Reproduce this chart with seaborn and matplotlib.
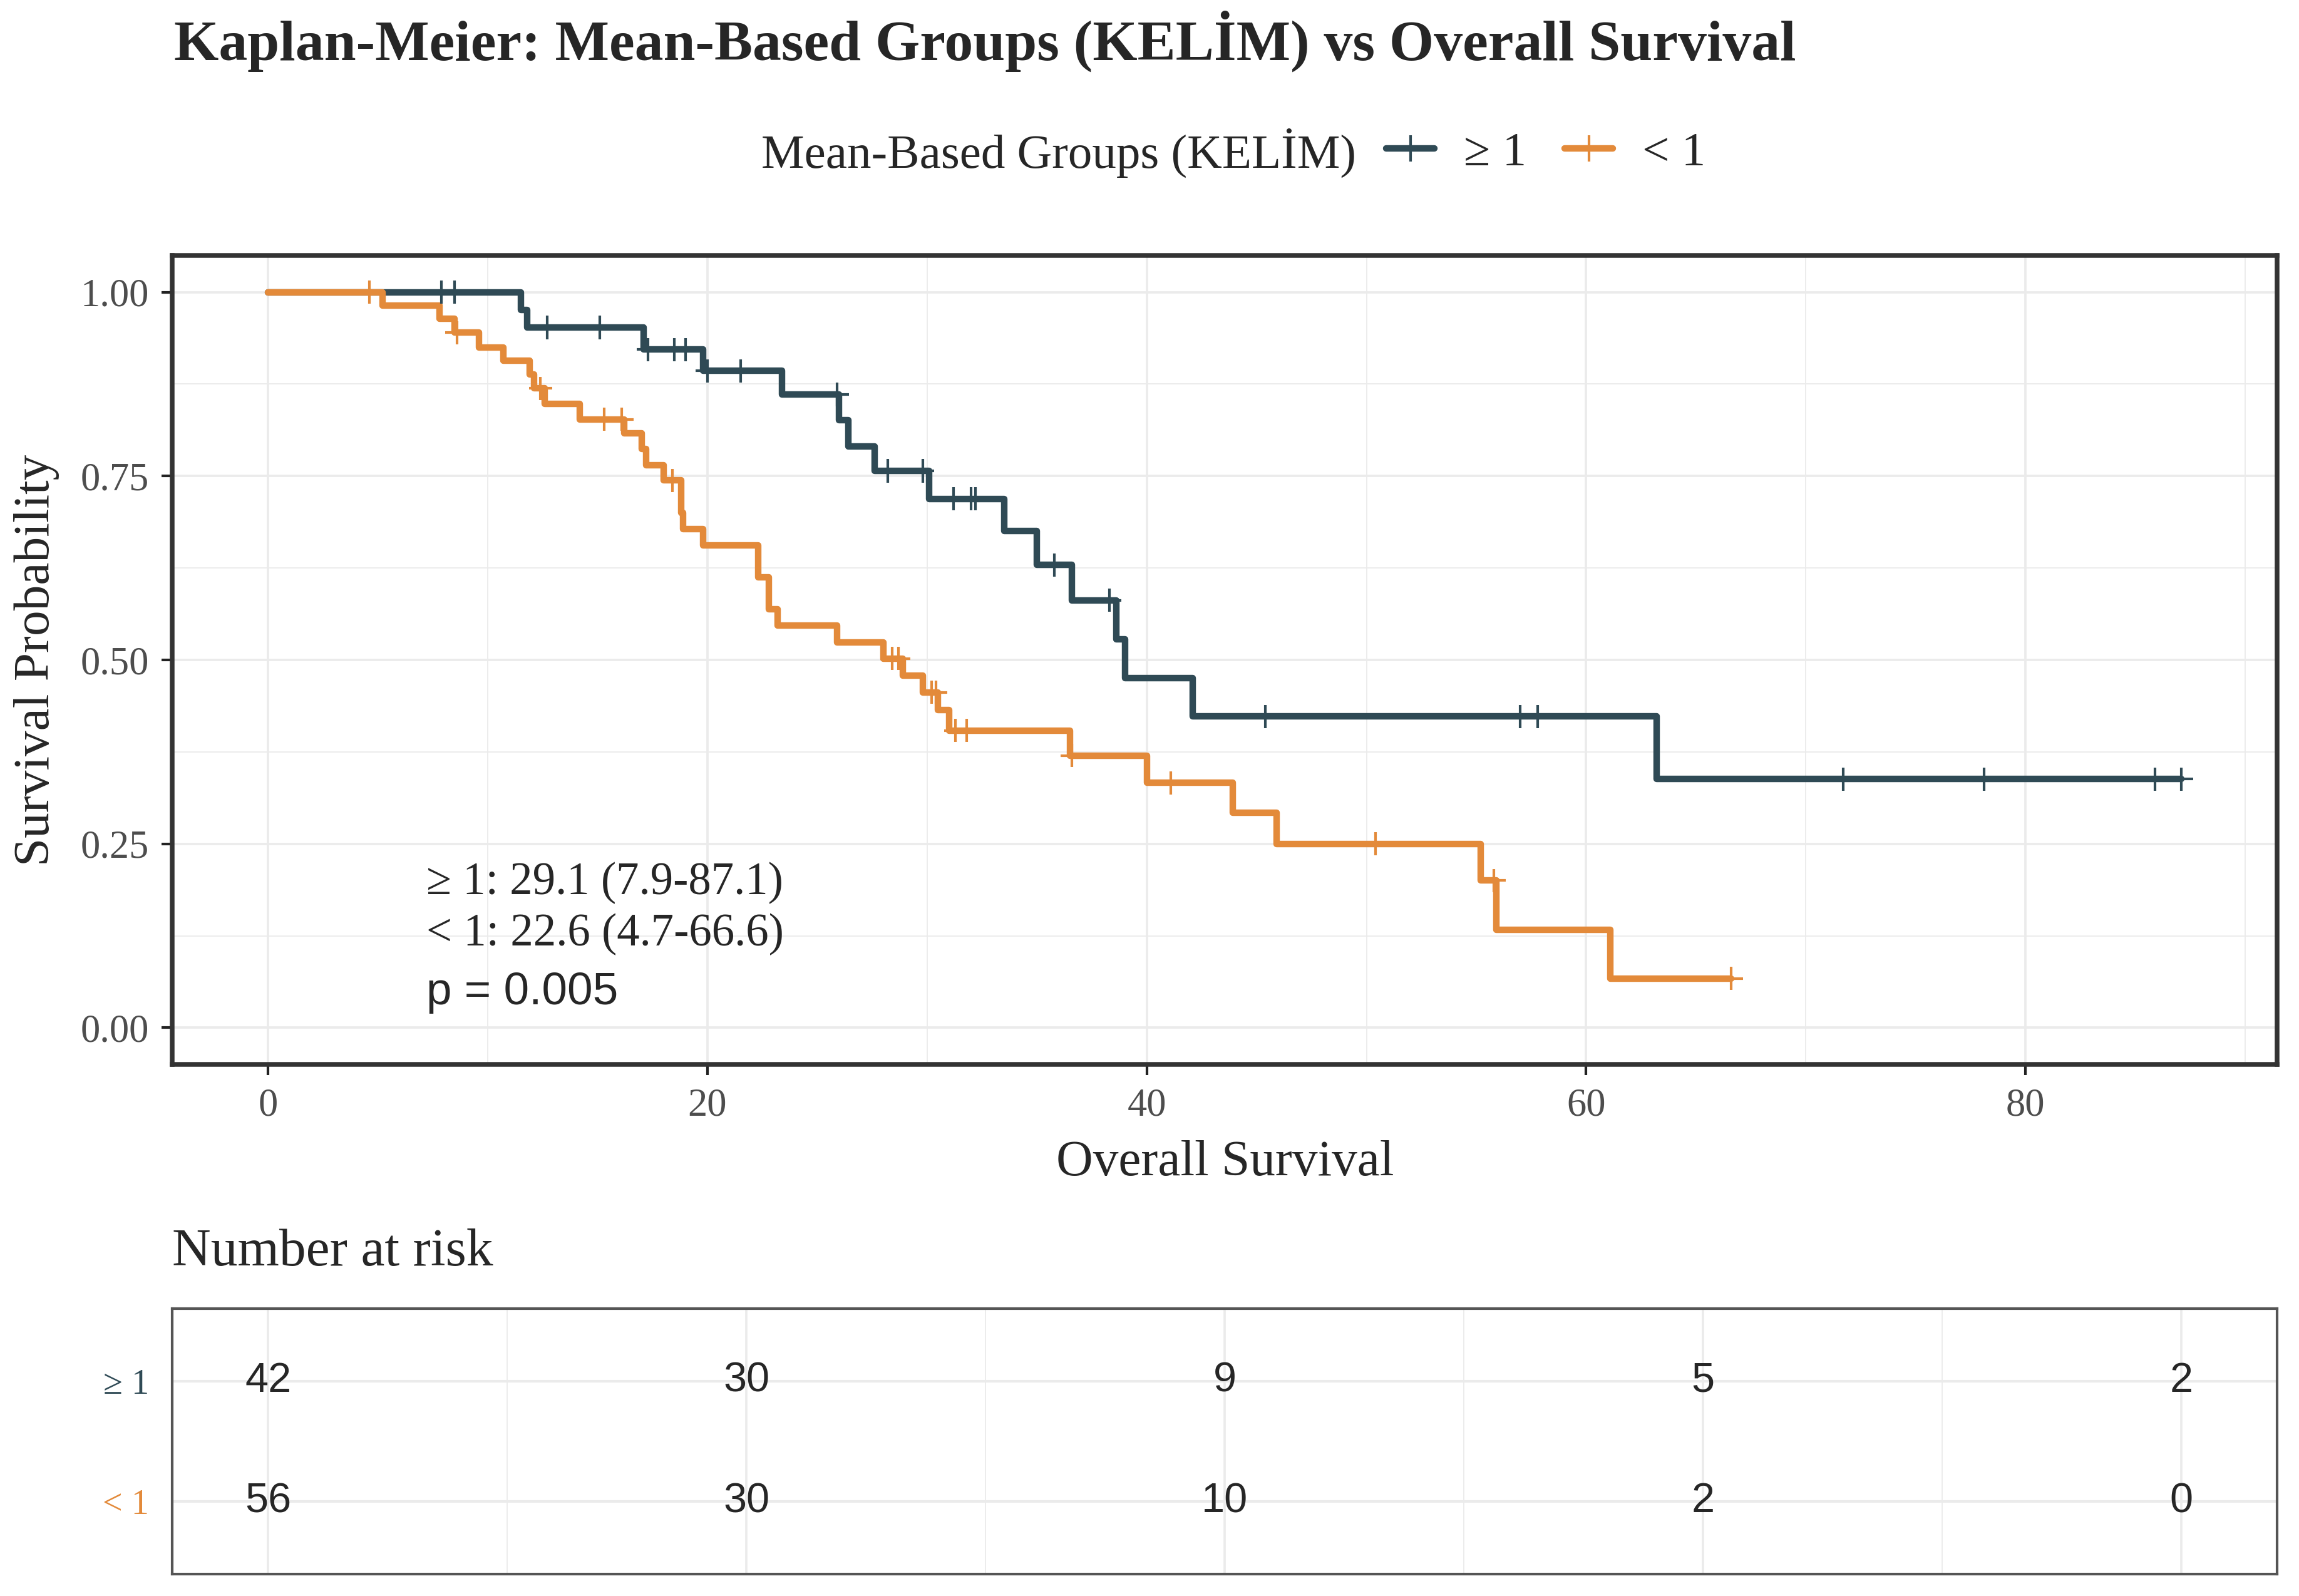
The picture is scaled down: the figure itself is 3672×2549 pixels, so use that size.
import matplotlib
matplotlib.use("Agg")
import matplotlib.pyplot as plt
from matplotlib.lines import Line2D
import numpy as np
import pandas as pd
import seaborn as sns

# %%
# data

groups = ["≥ 1", "< 1"]
colours = ["#2F4A55", "#E38A3A"]

# Kaplan-Meier steps, group >= 1
times_ge = [0, 11.5, 11.8, 17.1, 19.8, 23.4, 26.0, 26.4, 27.6, 30.1, 33.5,
            35.0, 36.6, 38.6, 39.0, 42.1, 63.2]
surv_ge = [1.0, 0.976, 0.952, 0.922, 0.893, 0.861, 0.826, 0.790, 0.757,
           0.719, 0.675, 0.629, 0.581, 0.528, 0.475, 0.423, 0.338]
end_ge = 87.1
censor_ge = [7.9, 8.5, 12.7, 15.1, 17.3, 18.5, 19.0, 20.0, 21.5, 25.9, 28.2,
             29.8, 31.2, 32.0, 32.2, 35.8, 38.3, 45.4, 57.0, 57.8, 71.7,
             78.1, 85.9, 87.1]

# Kaplan-Meier steps, group < 1
times_lt = [0, 5.2, 7.8, 8.5, 9.6, 10.7, 11.9, 12.1, 12.6, 14.2, 16.2, 17.0,
            17.2, 18.0, 18.8, 18.9, 19.8, 22.3, 22.8, 23.2, 25.9, 28.0, 28.9,
            29.8, 30.5, 31.0, 36.5, 40.0, 43.9, 45.9, 55.2, 55.9, 61.1]
surv_lt = [1.0, 0.982, 0.964, 0.945, 0.925, 0.907, 0.888, 0.869, 0.848,
           0.827, 0.808, 0.787, 0.765, 0.744, 0.700, 0.678, 0.656, 0.612,
           0.569, 0.547, 0.524, 0.502, 0.479, 0.456, 0.432, 0.404, 0.370,
           0.333, 0.292, 0.250, 0.200, 0.133, 0.067]
end_lt = 66.6
censor_lt = [4.6, 8.6, 12.4, 15.3, 16.1, 18.4, 28.4, 28.7, 30.2, 30.4, 31.3,
             31.8, 36.6, 41.1, 50.4, 55.8, 66.6]

# number at risk table
risk_times = [0, 20, 40, 60, 80]
risk_ge = [42, 30, 9, 5, 2]
risk_lt = [56, 30, 10, 2, 0]

annot_lines = ["≥ 1: 29.1 (7.9-87.1)", "< 1: 22.6 (4.7-66.6)"]
p_text = "p = 0.005"

# %%
# build frames

curves = []
censors = []
for g, t, s, e, c in [(groups[0], times_ge, surv_ge, end_ge, censor_ge),
                      (groups[1], times_lt, surv_lt, end_lt, censor_lt)]:
    df = pd.DataFrame({"time": list(t) + [e], "surv": list(s) + [s[-1]]})
    df["group"] = g
    curves.append(df)
    idx = np.searchsorted(np.array(t), np.array(c), side="right") - 1
    cdf = pd.DataFrame({"time": c, "surv": np.array(s)[idx]})
    cdf["group"] = g
    censors.append(cdf)
curve_df = pd.concat(curves, ignore_index=True)
censor_df = pd.concat(censors, ignore_index=True)
palette = dict(zip(groups, colours))

# %%
sns.set_theme(style="white")
plt.rcParams["font.family"] = ["Liberation Serif", "DejaVu Serif"]
plt.rcParams["axes.unicode_minus"] = False

fig = plt.figure(figsize=(12.24, 8.4967), dpi=300)
ax = fig.add_axes([0.075, 0.333, 0.9155, 0.507])
ax_r = fig.add_axes([0.075, 0.0137, 0.9155, 0.1663])

grid_major = dict(color="#EBEBEB", lw=0.9, zorder=0)
grid_minor = dict(color="#EBEBEB", lw=0.45, zorder=0)

for xv in range(0, 100, 20):
    ax.axvline(xv, **grid_major)
for xv in range(10, 100, 20):
    ax.axvline(xv, **grid_minor)
for xv in range(0, 90, 20):
    ax_r.axvline(xv, **grid_major)
for xv in range(10, 90, 20):
    ax_r.axvline(xv, **grid_minor)
for yv in [0, 0.25, 0.5, 0.75, 1.0]:
    ax.axhline(yv, **grid_major)
for yv in [0.125, 0.375, 0.625, 0.875]:
    ax.axhline(yv, **grid_minor)

sns.lineplot(data=curve_df, x="time", y="surv", hue="group", hue_order=groups,
             palette=palette, estimator=None, sort=False, drawstyle="steps-post",
             lw=2.5, legend=False, ax=ax, zorder=3)
sns.scatterplot(data=censor_df, x="time", y="surv", hue="group",
                hue_order=groups, palette=palette, marker="+", s=80,
                linewidth=1.0, legend=False, ax=ax, zorder=4)

ax.set_xlim(-4.355, 91.455)
ax.set_ylim(-0.05, 1.05)
ax.set_xticks([0, 20, 40, 60, 80])
ax.set_yticks([0, 0.25, 0.5, 0.75, 1.0])
ax.set_yticklabels(["0.00", "0.25", "0.50", "0.75", "1.00"])
ax.tick_params(axis="both", which="major", length=4, width=1.0, color="#222222",
               labelsize=15, labelcolor="#4D4D4D", pad=5, direction="out",
               bottom=True, left=True)
ax.set_xlabel("Overall Survival", fontsize=19.5, labelpad=6)
ax.set_ylabel("Survival Probability", fontsize=19.5, labelpad=8)
for sp in ax.spines.values():
    sp.set_color("#333333")
    sp.set_linewidth(1.8)

ax.text(7.2, 0.197, annot_lines[0], fontsize=17.5, va="center", ha="left")
ax.text(7.2, 0.127, annot_lines[1], fontsize=17.5, va="center", ha="left")
ax.text(7.2, 0.048, p_text, fontsize=17.5, va="center", ha="left",
        family=["Liberation Sans", "DejaVu Sans"])

# risk table, its own x range 0..80 with 5% padding
ax_r.set_xlim(-4, 84)
ax_r.set_ylim(0.4, 2.6)
for yv in [1, 2]:
    ax_r.axhline(yv, color="#EBEBEB", lw=1.0, zorder=0)
for t, a, b in zip(risk_times, risk_ge, risk_lt):
    ax_r.text(t, 2, str(a), ha="center", va="center", fontsize=16,
              family=["Liberation Sans", "DejaVu Sans"])
    ax_r.text(t, 1, str(b), ha="center", va="center", fontsize=16,
              family=["Liberation Sans", "DejaVu Sans"])
ax_r.set_xticks([])
ax_r.set_yticks([2, 1])
ax_r.set_yticklabels(groups)
for lab, col in zip(ax_r.get_yticklabels(), colours):
    lab.set_color(col)
ax_r.tick_params(axis="y", length=0, labelsize=13.5, pad=9)
for sp in ax_r.spines.values():
    sp.set_color("#555555")
    sp.set_linewidth(1.0)

fig.text(0.075, 0.215, "Number at risk", fontsize=20.5, va="center", ha="left")

# title and legend
fig.text(0.0757, 0.974, "Kaplan-Meier: Mean-Based Groups (KELİM) vs Overall Survival",
         fontsize=22, fontweight="bold", va="center", ha="left")
fig.text(0.590, 0.904, "Mean-Based Groups (KELİM)", fontsize=18.5,
         va="center", ha="right")
handles = [Line2D([0], [0], color=c, lw=2.5, marker="+", markersize=10,
                  markeredgewidth=1.0) for c in colours]
fig.legend(handles, groups, loc="center left", bbox_to_anchor=(0.603, 0.904),
           ncol=2, frameon=False, fontsize=18.5, handlelength=1.0,
           handletextpad=0.6, columnspacing=0.8, borderpad=0, borderaxespad=0)

fig.savefig("out.png", dpi=300)
